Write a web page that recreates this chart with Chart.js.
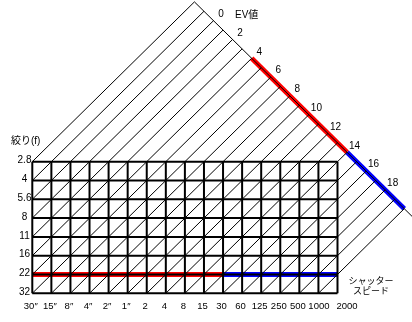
<!DOCTYPE html>
<html>
<head>
<meta charset="utf-8">
<script src="https://cdn.jsdelivr.net/npm/chart.js@4"></script>
<style>
  html, body { margin: 0; padding: 0; background: #fff; }
  canvas { display: block; }
</style>
</head>
<body>
<canvas id="ev" width="412" height="322"></canvas>
<script>
// shutter speeds (columns) and apertures (rows)
const shutterLabels = ["30″", "15″", "8″", "4″", "2″", "1″", "2", "4", "8", "15", "30", "60", "125", "250", "500", "1000", "2000"];
const apertureLabels = ["2.8", "4", "5.6", "8", "11", "16", "22", "32"];
const evLabels = [0, 2, 4, 6, 8, 10, 12, 14, 16, 18];
const evAtCorner = -2;          // EV at 30" / f2.8
const evMaxDrawn = 20;
const redEV = [4, 14];
const blueEV = [14, 20];
const highlightAperture = "22";

const nCols = shutterLabels.length - 1;
const nRows = apertureLabels.length - 1;
const EDGE = 17;   // c - r on the EV scale line
const FONT = "10px 'Liberation Sans', 'Noto Sans CJK JP', sans-serif";

// point on the EV scale line for a given EV
function edgePoint(ev) {
  const k = ev - evAtCorner;
  return { x: (k + EDGE) / 2, y: (k - EDGE) / 2 };
}

const datasets = [];
function seg(a, b, color, width) {
  datasets.push({
    data: [a, b],
    borderColor: color,
    borderWidth: width,
    showLine: true,
    pointRadius: 0,
    borderCapStyle: "butt",
    fill: false
  });
}

// diagonals (constant EV)
for (let ev = evAtCorner; ev <= evMaxDrawn; ev++) {
  const k = ev - evAtCorner;
  const start = k <= nRows ? { x: 0, y: k } : { x: k - nRows, y: nRows };
  seg(start, edgePoint(ev), "#000", 1);
}
// EV scale line
seg(edgePoint(evAtCorner), edgePoint(evMaxDrawn + 1), "#000", 1);

// grid
for (let r = 0; r <= nRows; r++) seg({ x: 0, y: r }, { x: nCols, y: r }, "#000", 2);
for (let c = 0; c <= nCols; c++) seg({ x: c, y: 0 }, { x: c, y: nRows }, "#000", 2);

// highlighted row and EV range
const hr = apertureLabels.indexOf(highlightAperture);
const colFor = ev => ev - evAtCorner - hr;
seg({ x: colFor(redEV[0]), y: hr }, { x: colFor(redEV[1]), y: hr }, "#ff0000", 5);
seg({ x: colFor(blueEV[0]), y: hr }, { x: colFor(blueEV[1]), y: hr }, "#0000ff", 5);
seg(edgePoint(redEV[0]), edgePoint(redEV[1]), "#ff0000", 5);
seg(edgePoint(blueEV[0]), edgePoint(blueEV[1]), "#0000ff", 5);

const labelPlugin = {
  id: "labels",
  afterDraw(chart) {
    const ctx = chart.ctx;
    const sx = chart.scales.x, sy = chart.scales.y;
    ctx.save();
    ctx.fillStyle = "#000";
    ctx.font = FONT;
    ctx.textBaseline = "middle";

    ctx.textAlign = "center";
    apertureLabels.forEach((t, r) => {
      ctx.fillText(t, 24.5, sy.getPixelForValue(r) - 1);
    });
    evLabels.forEach(ev => {
      const p = edgePoint(ev);
      ctx.fillText(String(ev), sx.getPixelForValue(p.x) + 7.5, sy.getPixelForValue(p.y) - 6.5);
    });
    ctx.font = "9.5px 'Liberation Sans', sans-serif";
    shutterLabels.forEach((t, c) => {
      const px = sx.getPixelForValue(c);
      if (c === nCols) {
        ctx.textAlign = "left";
        ctx.fillText(t, px - 1, 306);
        ctx.textAlign = "center";
      } else {
        ctx.fillText(t, c === nCols - 1 ? px + 0.5 : px - 1.5, 306);
      }
    });

    ctx.font = FONT;
    ctx.textAlign = "left";
    ctx.fillText("EV値", 235, 15);
    ctx.fillText("絞り(f)", 11, 141);
    ctx.font = "9px 'Noto Sans CJK JP', sans-serif";
    ctx.textAlign = "center";
    ctx.fillText("シャッター", 371, 281);
    ctx.fillText("スピード", 371, 291);
    ctx.restore();
  }
};

new Chart(document.getElementById("ev"), {
  type: "scatter",
  data: { datasets },
  options: {
    responsive: false,
    devicePixelRatio: 1,
    animation: false,
    layout: { padding: 0 },
    plugins: { legend: { display: false }, tooltip: { enabled: false } },
    scales: {
      x: { type: "linear", display: false, min: -1.693, max: 19.906 },
      y: { type: "linear", display: false, reverse: true, min: -8.6, max: 8.527 }
    }
  },
  plugins: [labelPlugin]
});
</script>
</body>
</html>
